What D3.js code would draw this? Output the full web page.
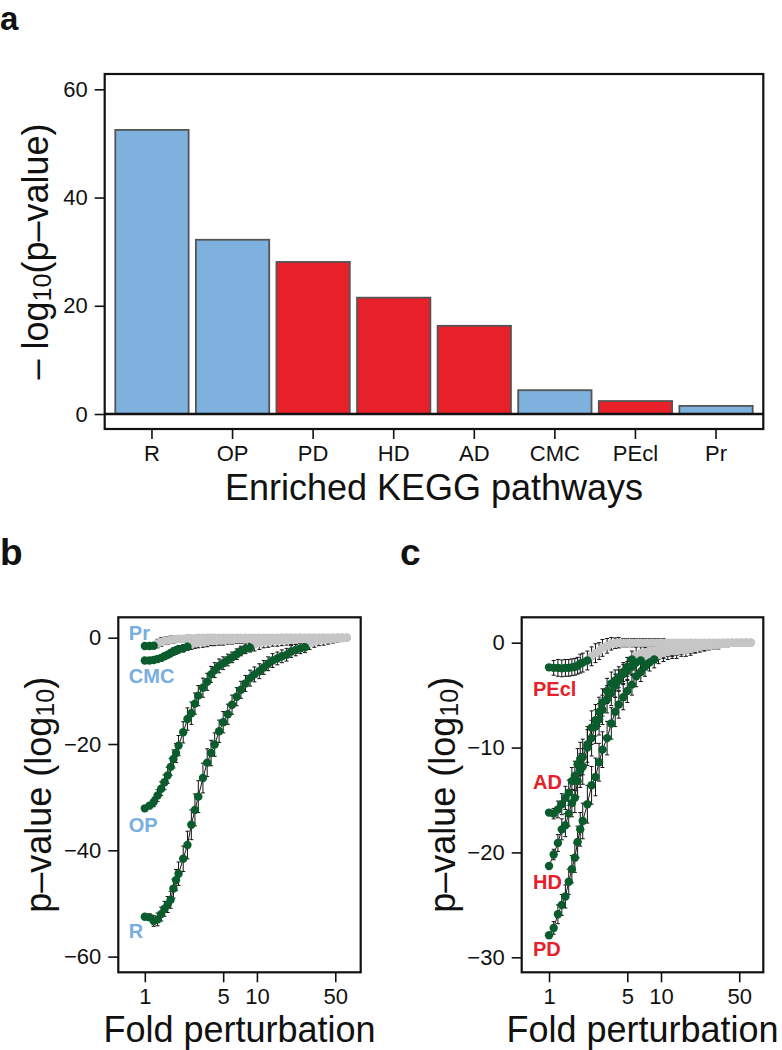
<!DOCTYPE html>
<html>
<head>
<meta charset="utf-8">
<script src="https://cdnjs.cloudflare.com/ajax/libs/d3/7.8.5/d3.min.js"></script>
<style>
  body { margin: 0; background: #fff; }
  text { font-family: "Liberation Sans", Arial, Helvetica, sans-serif; fill: #111; }
</style>
</head>
<body>
<div id="chart"></div>
<script>
// ---- panel a: enriched pathways
var pathways = ["R", "OP", "PD", "HD", "AD", "CMC", "PEcl", "Pr"];
var negLogP = [52.5, 32.2, 28.1, 21.5, 16.3, 4.4, 2.4, 1.5];
var pathwayPanel = ["b", "b", "c", "c", "c", "b", "c", "b"];

// ---- panels b, c: fold perturbation grid
var fold = [1, 1.1, 1.2, 1.3, 1.4, 1.5, 1.6, 1.7, 1.8, 1.9,
  2.0, 2.2, 2.4, 2.6, 2.8, 3.0, 3.3, 3.6, 3.9, 4.2,
  4.6, 5.0, 5.5, 6.0, 6.6, 7.2, 7.9, 8.7, 9.5, 10.5,
  11.5, 12.6, 13.8, 15.2, 16.7, 18.4, 20.2, 22.2, 24.4, 26.8,
  29.5, 32.5, 35.7, 39.3, 43.2, 47.5, 52.3, 57.5, 63.3];

// log10 p-values per pathway (mean) and error half-widths; first nSig points still significant
var valR = [-52.5, -52.6, -53.3, -53.0, -52.0, -51.0, -50.2, -49.3, -47.2, -45.6,
  -44.4, -41.6, -39.0, -35.2, -32.4, -29.9, -26.4, -23.5, -21.7, -20.1,
  -17.6, -15.9, -14.4, -12.6, -11.1, -9.8, -8.6, -7.6, -6.9, -6.3,
  -5.6, -4.9, -4.3, -3.9, -3.5, -3.2, -2.6, -2.3, -2.0, -1.8,
  -1.0, -0.7, -0.5, -0.4, -0.3, -0.2, -0.1, -0.1, 0];
var errR = [0, 0.6, 1.0, 1.2, 1.3, 1.4, 1.5, 1.6, 1.8, 2.0,
  2.2, 2.4, 2.6, 2.8, 3.0, 3.0, 2.8, 2.6, 2.4, 2.2,
  2.1, 2.0, 1.9, 1.8, 1.7, 1.6, 1.5, 1.5, 1.4, 1.4,
  1.3, 1.3, 1.3, 1.2, 1.2, 1.2, 1.1, 1.1, 1.0, 1.0,
  1.2, 1.1, 1.0, 1.0, 0.9, 0.8, 0.7, 0.6, 0.5];
var sigR = 40;

var valOP = [-32.1, -31.6, -30.9, -29.7, -28.4, -27.2, -25.9, -24.3, -22.8, -21.7,
  -20.3, -17.8, -15.3, -14.2, -12.4, -10.9, -9.4, -8.3, -6.9, -6.1,
  -5.3, -4.8, -4.2, -3.7, -3.1, -2.5, -2.1, -1.9, -1.3, -1.0,
  -0.8, -0.7, -0.6, -0.6, -0.5, -0.5, -0.4, -0.4, -0.3, -0.3,
  -0.2, -0.2, -0.1, -0.1, -0.1, 0, 0, 0, 0];
var errOP = [0, 0.5, 0.9, 1.1, 1.3, 1.4, 1.5, 1.6, 1.7, 1.8,
  1.9, 2.0, 2.1, 2.1, 2.0, 1.9, 1.8, 1.6, 1.5, 1.4,
  1.3, 1.2, 1.1, 1.0, 1.0, 0.9, 0.9, 0.8, 1.2, 1.2,
  1.1, 1.1, 1.0, 1.0, 1.0, 0.9, 0.9, 0.9, 0.8, 0.8,
  0.8, 0.7, 0.7, 0.6, 0.6, 0.5, 0.5, 0.4, 0.4];
var sigOP = 28;

var valCMC = [-4.3, -4.3, -4.2, -4.0, -3.8, -3.5, -3.2, -2.9, -2.6, -2.4,
  -2.2, -2.0, -1.7, -1.2, -1.0, -0.9, -0.8, -0.7, -0.6, -0.6,
  -0.5, -0.5, -0.4, -0.4, -0.3, -0.3, -0.3, -0.2, -0.2, -0.2,
  -0.1, -0.1, -0.1, -0.1, 0, 0, 0, 0, 0, 0,
  0, 0, 0, 0, 0, 0, 0, 0, 0];
var errCMC = [0, 0.3, 0.4, 0.5, 0.5, 0.6, 0.6, 0.7, 0.7, 0.7,
  0.7, 0.7, 0.7, 1.0, 1.0, 1.0, 1.0, 1.0, 0.9, 0.9,
  0.9, 0.9, 0.8, 0.8, 0.8, 0.8, 0.7, 0.7, 0.7, 0.7,
  0.6, 0.6, 0.6, 0.6, 0.5, 0.5, 0.5, 0.5, 0.5, 0.4,
  0.4, 0.4, 0.4, 0.3, 0.3, 0.3, 0.3, 0.3, 0.3];
var sigCMC = 13;

var valPr = [-1.55, -1.55, -1.5, -1.1, -0.8, -0.6, -0.5, -0.4, -0.3, -0.3,
  -0.2, -0.2, -0.1, -0.1, -0.1, 0, 0, 0, 0, 0,
  0, 0, 0, 0, 0, 0, 0, 0, 0, 0,
  0, 0, 0, 0, 0, 0, 0, 0, 0, 0,
  0, 0, 0, 0, 0, 0, 0, 0, 0];
var errPr = [0, 0.3, 0.4, 0.8, 0.8, 0.7, 0.7, 0.7, 0.7, 0.6,
  0.6, 0.6, 0.6, 0.5, 0.5, 0.5, 0.5, 0.5, 0.4, 0.4,
  0.4, 0.4, 0.4, 0.4, 0.4, 0.4, 0.4, 0.4, 0.4, 0.4,
  0.3, 0.3, 0.3, 0.3, 0.3, 0.3, 0.3, 0.3, 0.3, 0.3,
  0.3, 0.3, 0.3, 0.3, 0.3, 0.3, 0.3, 0.3, 0.3];
var sigPr = 3;

var valPD = [-27.9, -27.2, -25.9, -25.0, -24.2, -22.8, -21.6, -20.5, -19.0, -17.8,
  -17.0, -15.4, -13.6, -12.8, -11.4, -10.2, -9.1, -7.7, -6.6, -5.9,
  -5.2, -4.6, -4.0, -3.2, -2.8, -2.3, -1.9, -1.6, -1.2, -1.0,
  -0.9, -0.8, -0.8, -0.7, -0.7, -0.6, -0.5, -0.4, -0.3, -0.3,
  -0.2, -0.2, -0.1, -0.1, 0, 0, 0, 0, 0];
var errPD = [0, 0.6, 0.9, 1.0, 1.1, 1.2, 1.3, 1.4, 1.5, 1.6,
  1.7, 1.8, 1.8, 1.8, 1.8, 1.7, 1.6, 1.5, 1.4, 1.3,
  1.2, 1.1, 1.0, 1.0, 0.9, 0.9, 0.8, 0.8, 0.8, 0.8,
  0.7, 0.7, 0.7, 0.6, 0.6, 0.6, 0.5, 0.5, 0.5, 0.4,
  0.4, 0.4, 0.3, 0.3, 0.3, 0.3, 0.2, 0.2, 0.2];
var sigPD = 28;

var valHD = [-21.3, -20.2, -19.1, -17.8, -17.4, -16.3, -15.3, -14.8, -13.2, -12.2,
  -11.8, -10.0, -9.1, -8.0, -7.3, -6.4, -5.4, -4.8, -4.1, -3.6,
  -3.0, -2.7, -2.3, -1.9, -1.7, -1.3, -1.1, -1.0, -0.9, -0.8,
  -0.7, -0.7, -0.6, -0.6, -0.5, -0.5, -0.4, -0.3, -0.3, -0.2,
  -0.2, -0.1, -0.1, 0, 0, 0, 0, 0, 0];
var errHD = [0, 0.5, 0.8, 1.0, 1.1, 1.2, 1.3, 1.4, 1.5, 1.6,
  1.7, 1.7, 1.7, 1.6, 1.5, 1.4, 1.3, 1.2, 1.1, 1.0,
  0.9, 0.9, 0.8, 0.8, 0.7, 0.8, 0.8, 0.7, 0.7, 0.7,
  0.6, 0.6, 0.6, 0.5, 0.5, 0.5, 0.5, 0.4, 0.4, 0.4,
  0.3, 0.3, 0.3, 0.3, 0.2, 0.2, 0.2, 0.2, 0.2];
var sigHD = 25;

var valAD = [-16.2, -16.3, -15.9, -15.4, -14.8, -14.3, -13.2, -12.7, -11.6, -11.1,
  -10.9, -9.7, -8.1, -7.4, -6.6, -5.7, -4.6, -3.9, -3.6, -3.3,
  -2.8, -2.3, -1.6, -1.2, -1.0, -0.9, -0.8, -0.8, -0.7, -0.7,
  -0.6, -0.6, -0.5, -0.5, -0.4, -0.4, -0.3, -0.3, -0.2, -0.2,
  -0.1, -0.1, 0, 0, 0, 0, 0, 0, 0];
var errAD = [0, 0.5, 0.8, 1.0, 1.1, 1.2, 1.3, 1.4, 1.5, 1.6,
  1.7, 1.7, 1.6, 1.5, 1.4, 1.3, 1.2, 1.1, 1.0, 1.0,
  0.9, 0.9, 0.8, 0.8, 0.8, 0.8, 0.7, 0.7, 0.7, 0.7,
  0.6, 0.6, 0.6, 0.5, 0.5, 0.5, 0.4, 0.4, 0.4, 0.3,
  0.3, 0.3, 0.3, 0.2, 0.2, 0.2, 0.2, 0.2, 0.2];
var sigAD = 23;

var valPEcl = [-2.35, -2.4, -2.4, -2.45, -2.4, -2.4, -2.35, -2.3, -2.2, -2.0,
  -1.9, -1.7, -1.3, -1.0, -0.8, -0.5, -0.3, -0.1, -0.05, 0,
  0, 0, 0, 0, 0, 0, 0, 0, 0, 0,
  0, 0, 0, 0, 0, 0, 0, 0, 0, 0,
  0, 0, 0, 0, 0, 0, 0, 0, 0];
var errPEcl = [0, 0.7, 0.8, 0.8, 0.8, 0.8, 0.8, 0.8, 0.8, 0.9,
  0.9, 0.9, 0.9, 0.9, 0.8, 0.8, 0.7, 0.6, 0.5, 0.5,
  0.4, 0.4, 0.4, 0.4, 0.4, 0.4, 0.4, 0.4, 0.4, 0.4,
  0.3, 0.3, 0.3, 0.3, 0.3, 0.3, 0.3, 0.3, 0.3, 0.3,
  0.3, 0.3, 0.3, 0.3, 0.3, 0.3, 0.3, 0.3, 0.3];
var sigPEcl = 12;

var series = [
  {name: "R", panel: "b", values: valR, errors: errR, nSig: sigR},
  {name: "OP", panel: "b", values: valOP, errors: errOP, nSig: sigOP},
  {name: "CMC", panel: "b", values: valCMC, errors: errCMC, nSig: sigCMC},
  {name: "Pr", panel: "b", values: valPr, errors: errPr, nSig: sigPr},
  {name: "PD", panel: "c", values: valPD, errors: errPD, nSig: sigPD},
  {name: "HD", panel: "c", values: valHD, errors: errHD, nSig: sigHD},
  {name: "AD", panel: "c", values: valAD, errors: errAD, nSig: sigAD},
  {name: "PEcl", panel: "c", values: valPEcl, errors: errPEcl, nSig: sigPEcl}
];

// label offsets (px) from the first point of each curve
var labelDy = {Pr: -6, CMC: 22, OP: 24, R: 21, PEcl: 29, AD: -24, HD: 23, PD: 21};

var blue = "#7fb1de", red = "#e8202a", green = "#0b5c2d", grey = "#c6c6c6";
var labelColor = {b: "#78aee0", c: "#e5202a"};

var svg = d3.select("#chart").append("svg")
    .attr("width", 782)
    .attr("height", 1050);

svg.append("rect").attr("width", 782).attr("height", 1050).attr("fill", "#fff");

function styleAxis(g, size) {
  g.select(".domain").remove();
  g.selectAll(".tick line").attr("stroke", "#111").attr("stroke-width", 1.6);
  g.selectAll(".tick text").attr("font-size", size).attr("fill", "#111")
    .style("font-family", "'Liberation Sans', Arial, sans-serif");
}

// ================= panel a =================
var A = {left: 104.7, right: 763.3, top: 74, bottom: 429};

var xa = d3.scaleBand()
    .domain(pathways)
    .range([115.3, 752.7])
    .paddingInner(0.09)
    .paddingOuter(0);

var ya = d3.scaleLinear()
    .domain([-2.77, 62.83])
    .range([A.bottom, A.top]);

svg.append("g")
  .selectAll("rect")
  .data(pathways)
  .enter().append("rect")
    .attr("x", function(d) { return xa(d); })
    .attr("width", xa.bandwidth())
    .attr("y", function(d, i) { return ya(negLogP[i]); })
    .attr("height", function(d, i) { return ya(0) - ya(negLogP[i]); })
    .attr("fill", function(d, i) { return pathwayPanel[i] == "b" ? blue : red; })
    .attr("stroke", "#555")
    .attr("stroke-width", 1.8);

svg.append("line")
    .attr("x1", A.left).attr("x2", A.right)
    .attr("y1", ya(0)).attr("y2", ya(0))
    .attr("stroke", "#111").attr("stroke-width", 2.6);

svg.append("rect")
    .attr("x", A.left).attr("y", A.top)
    .attr("width", A.right - A.left).attr("height", A.bottom - A.top)
    .attr("fill", "none").attr("stroke", "#111").attr("stroke-width", 2.2);

svg.append("g")
    .attr("transform", "translate(" + A.left + ",0)")
    .call(d3.axisLeft(ya).tickValues([0, 20, 40, 60]).tickSize(10).tickPadding(7))
    .call(styleAxis, 22);

svg.append("g")
    .attr("transform", "translate(0," + A.bottom + ")")
    .call(d3.axisBottom(xa).tickSize(10).tickPadding(6))
    .call(styleAxis, 22);

svg.append("text")
    .attr("x", (A.left + A.right) / 2)
    .attr("y", 500)
    .attr("text-anchor", "middle")
    .attr("font-size", 36)
    .text("Enriched KEGG pathways");

var ta = svg.append("text")
    .attr("transform", "translate(35," + ((A.top + A.bottom) / 2) + ") rotate(-90)")
    .attr("text-anchor", "middle")
    .attr("dominant-baseline", "central")
    .attr("font-size", 36);
ta.append("tspan").text("\u2013 log");
ta.append("tspan").attr("font-size", 25).attr("dy", 7).text("10");
ta.append("tspan").attr("dy", -7).text("(p\u2013value)");

// ================= panels b and c =================
function drawPanel(panel, P) {
  var x = d3.scaleLog().domain(P.xDomain).range([P.left, P.right]);
  var y = d3.scaleLinear().domain(P.yDomain).range([P.bottom, P.top]);

  var list = series.filter(function(s) { return s.panel == panel; });
  var pts = [];
  list.forEach(function(s) {
    s.values.forEach(function(v, i) {
      pts.push({name: s.name, f: fold[i], v: v, e: s.errors[i], sig: i < s.nSig});
    });
  });

  var g = svg.append("g");

  // error bars
  var eb = g.append("g").attr("stroke", "#111").attr("stroke-width", 1)
    .selectAll("g").data(pts.filter(function(d) { return d.e > 0; }))
    .enter().append("g");
  eb.append("line")
      .attr("x1", function(d) { return x(d.f); }).attr("x2", function(d) { return x(d.f); })
      .attr("y1", function(d) { return y(d.v - d.e); })
      .attr("y2", function(d) { return y(d.v + d.e); });
  eb.append("line")
      .attr("x1", function(d) { return x(d.f) - 2; }).attr("x2", function(d) { return x(d.f) + 2; })
      .attr("y1", function(d) { return y(d.v - d.e); }).attr("y2", function(d) { return y(d.v - d.e); });
  eb.append("line")
      .attr("x1", function(d) { return x(d.f) - 2; }).attr("x2", function(d) { return x(d.f) + 2; })
      .attr("y1", function(d) { return y(d.v + d.e); }).attr("y2", function(d) { return y(d.v + d.e); });

  // lines through significant points
  var line = d3.line()
      .x(function(d) { return x(d.f); })
      .y(function(d) { return y(d.v); });
  list.forEach(function(s) {
    var sp = pts.filter(function(d) { return d.name == s.name && d.sig; });
    g.append("path").datum(sp)
      .attr("d", line)
      .attr("fill", "none")
      .attr("stroke", "#1a1a1a")
      .attr("stroke-width", 1);
  });

  g.append("g").selectAll("circle")
    .data(pts.filter(function(d) { return !d.sig; }))
    .enter().append("circle")
      .attr("cx", function(d) { return x(d.f); })
      .attr("cy", function(d) { return y(d.v); })
      .attr("r", 4.2)
      .attr("fill", grey);

  g.append("g").selectAll("circle")
    .data(pts.filter(function(d) { return d.sig; }))
    .enter().append("circle")
      .attr("cx", function(d) { return x(d.f); })
      .attr("cy", function(d) { return y(d.v); })
      .attr("r", 4.2)
      .attr("fill", green);

  // curve labels
  g.selectAll("text.lab")
    .data(list)
    .enter().append("text")
      .attr("class", "lab")
      .attr("x", x(1) - 16)
      .attr("y", function(s) { return y(s.values[0]) + labelDy[s.name]; })
      .attr("font-size", 20)
      .attr("font-weight", "bold")
      .style("fill", labelColor[panel])
      .text(function(s) { return s.name; });

  svg.append("rect")
      .attr("x", P.left).attr("y", P.top)
      .attr("width", P.right - P.left).attr("height", P.bottom - P.top)
      .attr("fill", "none").attr("stroke", "#111").attr("stroke-width", 2.2);

  svg.append("g")
      .attr("transform", "translate(" + P.left + ",0)")
      .call(d3.axisLeft(y).tickValues(P.yTicks).tickSize(10).tickPadding(7).tickFormat(d3.format("d")))
      .call(styleAxis, 22);

  svg.append("g")
      .attr("transform", "translate(0," + P.bottom + ")")
      .call(d3.axisBottom(x).tickValues([1, 5, 10, 50]).tickSize(10).tickPadding(6).tickFormat(d3.format("d")))
      .call(styleAxis, 22);

  svg.append("text")
      .attr("x", (P.left + P.right) / 2)
      .attr("y", 1042)
      .attr("text-anchor", "middle")
      .attr("font-size", 36)
      .text("Fold perturbation");

  var t = svg.append("text")
      .attr("transform", "translate(" + (P.left - 80) + "," + ((P.top + P.bottom) / 2) + ") rotate(-90)")
      .attr("text-anchor", "middle")
      .attr("dominant-baseline", "central")
      .attr("font-size", 36);
  t.append("tspan").text("p\u2013value (log");
  t.append("tspan").attr("font-size", 25).attr("dy", 7).text("10");
  t.append("tspan").attr("dy", -7).text(")");
}

drawPanel("b", {left: 118.3, right: 360.7, top: 617.3, bottom: 972.3,
  xDomain: [0.58, 84.3], yDomain: [-62.95, 3.84], yTicks: [0, -20, -40, -60]});
drawPanel("c", {left: 521.7, right: 763.3, top: 617.3, bottom: 972.3,
  xDomain: [0.57, 82], yDomain: [-31.43, 2.42], yTicks: [0, -10, -20, -30]});

// panel letters
svg.selectAll("text.letter")
  .data([["a", 0, 30, 33], ["b", 0, 565, 37], ["c", 400, 565, 37]])
  .enter().append("text")
    .attr("class", "letter")
    .attr("x", function(d) { return d[1]; })
    .attr("y", function(d) { return d[2]; })
    .attr("font-size", function(d) { return d[3]; })
    .attr("font-weight", "bold")
    .text(function(d) { return d[0]; });
</script>
</body>
</html>
